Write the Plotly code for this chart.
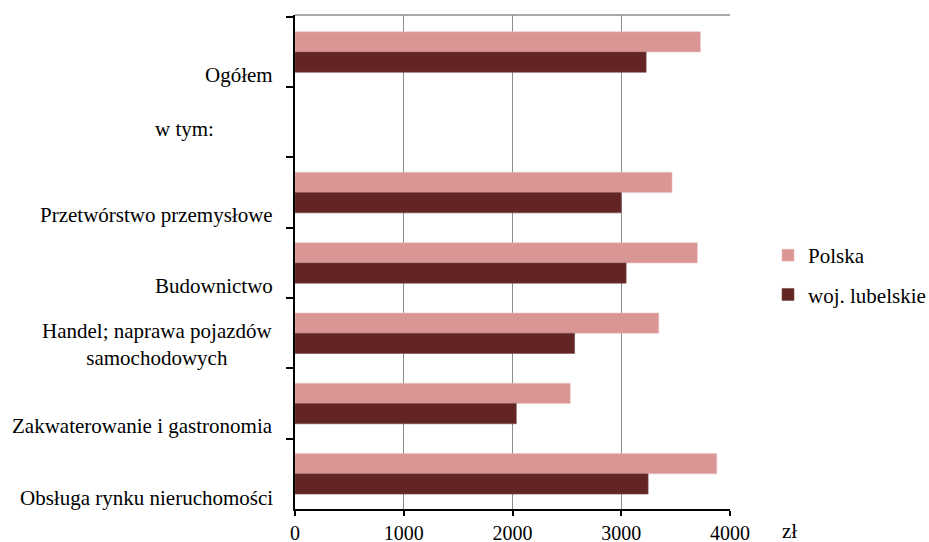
import plotly.graph_objects as go

categories = [
    "Ogółem",
    "w tym:",
    "Przetwórstwo przemysłowe",
    "Budownictwo",
    "Handel; naprawa pojazdów<br>samochodowych",
    "Zakwaterowanie i gastronomia",
    "Obsługa rynku nieruchomości",
]
polska = [3728, None, 3467, 3700, 3345, 2531, 3878]
lubelskie = [3229, None, 2999, 3045, 2571, 2035, 3247]
series_names = ["Polska", "woj. lubelskie"]
x_ticks = [0, 1000, 2000, 3000, 4000]

FONT = "Liberation Serif, Times New Roman, serif"
FS = 21
C_PL = "#DA9694"
C_LU = "#632523"

fig = go.Figure()
fig.add_trace(go.Bar(y=categories, x=polska, orientation="h", name=series_names[0],
                     marker=dict(color=C_PL, line=dict(color="#EBC3C2", width=0.6)),
                     legendgroup="a"))
fig.add_trace(go.Bar(y=categories, x=lubelskie, orientation="h", name=series_names[1],
                     marker=dict(color=C_LU, line=dict(color="#7a4a48", width=0.6)),
                     legendgroup="b"))

# category labels as annotations (offset like the original layout)
shifts = {0: (-20, -23), 1: (-79, -7), 2: (-20, -22), 3: (-20, -23), 4: (-20, -11), 5: (-20, -22), 6: (-20, -24)}
for i, c in enumerate(categories):
    xs, ys = shifts[i]
    fig.add_annotation(x=0, xref="paper", y=c, yref="y", text=c, showarrow=False,
                       xanchor="right", yanchor="middle", align="center",
                       xshift=xs, yshift=ys, font=dict(family=FONT, size=FS, color="black"))

fig.add_annotation(x=1.136, xref="paper", y=-0.045, yref="paper", text="zł", showarrow=False,
                   xanchor="center", yanchor="middle", font=dict(family=FONT, size=FS, color="black"))

# top border of plot area
fig.add_shape(type="line", xref="paper", yref="paper", x0=0, x1=1, y0=1, y1=1,
              line=dict(color="#8c8c8c", width=1.3))

fig.update_layout(
    width=929, height=542,
    margin=dict(l=295, r=199, t=15, b=33),
    paper_bgcolor="white", plot_bgcolor="white",
    barmode="group", bargap=0.424, bargroupgap=0,
    font=dict(family=FONT, size=FS, color="black"),
    showlegend=True,
    legend=dict(xref="container", yref="container", x=0.8267, y=0.4926,
                xanchor="left", yanchor="middle",
                font=dict(family=FONT, size=FS, color="black"),
                tracegroupgap=9, itemwidth=30, bgcolor="rgba(0,0,0,0)"),
    xaxis=dict(range=[0, 4000], tickvals=x_ticks, ticktext=[str(v) for v in x_ticks],
               showgrid=True, gridcolor="#8c8c8c", gridwidth=1.3,
               showline=True, linecolor="black", linewidth=2,
               ticks="outside", ticklen=5, tickcolor="black", tickwidth=2,
               zeroline=False, automargin=False, ticklabelstandoff=0,
               tickfont=dict(family=FONT, size=20, color="black")),
    yaxis=dict(type="category", autorange="reversed", showticklabels=False,
               showline=True, linecolor="black", linewidth=2,
               ticks="outside", ticklen=7, tickcolor="black", tickwidth=2,
               tickson="boundaries", showgrid=False, automargin=False),
)

fig.write_html("out.html", config={"displayModeBar": False},
               post_script="document.body.style.margin='0';")
